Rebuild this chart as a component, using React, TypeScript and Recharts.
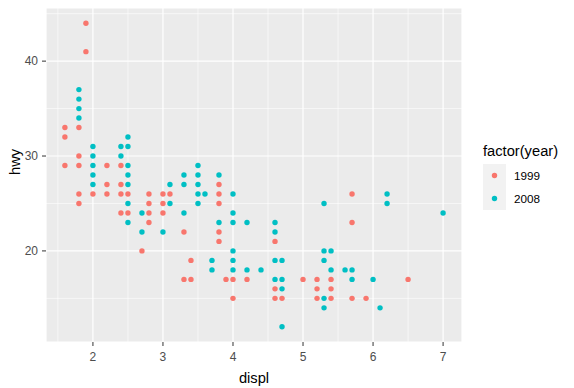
import React from 'react';
import { ScatterChart, Scatter, XAxis, YAxis, CartesianGrid, ReferenceLine } from 'recharts';

// visible points only (overlapping duplicates collapse to one dot)
const displ1999 = [1.9, 1.9, 1.6, 1.8, 1.6, 1.8, 1.6, 1.8, 2.2, 2.4, 2.2, 2.4, 1.8, 2.0, 2.2, 2.4, 2.5, 2.8, 3.0, 3.1, 1.8, 2.8, 3.0, 2.4, 2.5, 2.8, 3.0, 2.8, 3.3, 2.7, 3.3, 3.8, 3.8, 3.8, 3.8, 3.8, 4.6, 3.4, 3.4, 3.9, 4.0, 4.2, 5.0, 5.2, 4.6, 5.2, 4.0, 4.6, 4.7, 5.2, 5.7, 5.7, 5.4, 6.5, 5.4, 5.4, 5.7, 5.9];
const hwy1999 = [44, 41, 33, 33, 32, 30, 29, 29, 29, 29, 27, 27, 26, 26, 26, 26, 26, 26, 26, 26, 25, 25, 25, 24, 24, 24, 24, 23, 22, 20, 17, 27, 26, 25, 22, 21, 21, 19, 17, 17, 17, 17, 17, 17, 16, 16, 15, 15, 15, 15, 26, 23, 17, 17, 16, 15, 15, 15];

const displ2008 = [1.8, 1.8, 1.8, 1.8, 2.5, 2.0, 2.4, 2.5, 2.0, 2.4, 2.0, 2.5, 2.0, 2.5, 3.3, 2.0, 2.5, 3.1, 3.3, 2.5, 3.1, 2.7, 3.3, 2.5, 2.7, 3.0, 3.5, 3.5, 3.8, 3.5, 3.5, 3.6, 4.0, 3.5, 4.0, 3.8, 4.0, 4.2, 4.6, 4.6, 4.0, 3.7, 4.0, 4.6, 4.7, 3.7, 4.0, 4.2, 4.4, 4.6, 4.7, 4.7, 4.7, 6.2, 5.3, 6.2, 7.0, 5.3, 5.4, 5.3, 5.4, 5.6, 5.7, 5.7, 6.0, 5.3, 5.3, 6.1];
const hwy2008 = [37, 36, 35, 34, 32, 31, 31, 31, 30, 30, 29, 29, 28, 28, 28, 27, 27, 27, 27, 25, 25, 24, 24, 23, 22, 22, 29, 28, 28, 27, 26, 26, 26, 25, 24, 23, 23, 23, 23, 22, 20, 19, 19, 19, 19, 18, 18, 18, 18, 17, 17, 16, 12, 26, 25, 25, 24, 20, 20, 19, 18, 18, 18, 17, 17, 15, 14, 14];

const xTicks = [2, 3, 4, 5, 6, 7];
const xMinor = [1.5, 2.5, 3.5, 4.5, 5.5, 6.5];
const yTicks = [20, 30, 40];
const yMinor = [15, 25, 35, 45];
const years = ['1999', '2008'];
const colors = ['#F8766D', '#00BFC4'];

const pts1999 = displ1999.map((d, i) => ({ displ: d, hwy: hwy1999[i] }));
const pts2008 = displ2008.map((d, i) => ({ displ: d, hwy: hwy2008[i] }));

const font = '"Liberation Sans", Arial, sans-serif';

const dot = (color: string) => (props: any) => (
  <circle cx={props.cx} cy={props.cy} r={2.7} fill={color} />
);

function YearLegend() {
  return (
    <div style={{ position: 'absolute', left: 483, top: 141, fontFamily: font }}>
      <div style={{ fontSize: 14.7, lineHeight: '20px', color: '#000', marginBottom: 3 }}>factor(year)</div>
      {years.map((y, i) => (
        <div key={y} style={{ display: 'flex', alignItems: 'center', height: 23 }}>
          <svg width={23} height={23} style={{ background: '#F2F2F2', display: 'block' }}>
            <circle cx={11.5} cy={11.5} r={2.7} fill={colors[i]} />
          </svg>
          <span style={{ fontSize: 11.7, color: '#000', marginLeft: 8 }}>{y}</span>
        </div>
      ))}
    </div>
  );
}

export default function App() {
  return (
    <div style={{ position: 'absolute', left: 0, top: 0, width: 574, height: 388, background: '#fff' }}>
      <ScatterChart width={574} height={388} margin={{ top: 8, right: 112, bottom: 0, left: 0 }}>
        <CartesianGrid fill="#EBEBEB" stroke="#FFFFFF" strokeWidth={1.2} />
        {xMinor.map(v => <ReferenceLine key={'x' + v} x={v} stroke="#FFFFFF" strokeWidth={0.6} />)}
        {yMinor.map(v => <ReferenceLine key={'y' + v} y={v} stroke="#FFFFFF" strokeWidth={0.6} />)}
        <XAxis
          type="number"
          dataKey="displ"
          domain={[1.33, 7.27]}
          ticks={xTicks}
          allowDataOverflow
          height={46}
          axisLine={false}
          tickLine={{ stroke: '#333333' }}
          tickSize={4}
          tickMargin={6}
          tick={{ fill: '#4D4D4D', fontSize: 12, fontFamily: font }}
          label={{ value: 'displ', position: 'insideBottom', offset: 5, fill: '#000', fontSize: 14.7, fontFamily: font }}
        />
        <YAxis
          type="number"
          dataKey="hwy"
          domain={[10.4, 45.6]}
          ticks={yTicks}
          allowDataOverflow
          width={46}
          axisLine={false}
          tickLine={{ stroke: '#333333' }}
          tickSize={4}
          tickMargin={4}
          tick={{ fill: '#4D4D4D', fontSize: 12, fontFamily: font }}
          label={{ value: 'hwy', angle: -90, position: 'insideLeft', offset: 15, fill: '#000', fontSize: 14.7, fontFamily: font }}
        />
        <Scatter name="1999" data={pts1999} shape={dot(colors[0])} isAnimationActive={false} />
        <Scatter name="2008" data={pts2008} shape={dot(colors[1])} isAnimationActive={false} />
      </ScatterChart>
      <YearLegend />
    </div>
  );
}
